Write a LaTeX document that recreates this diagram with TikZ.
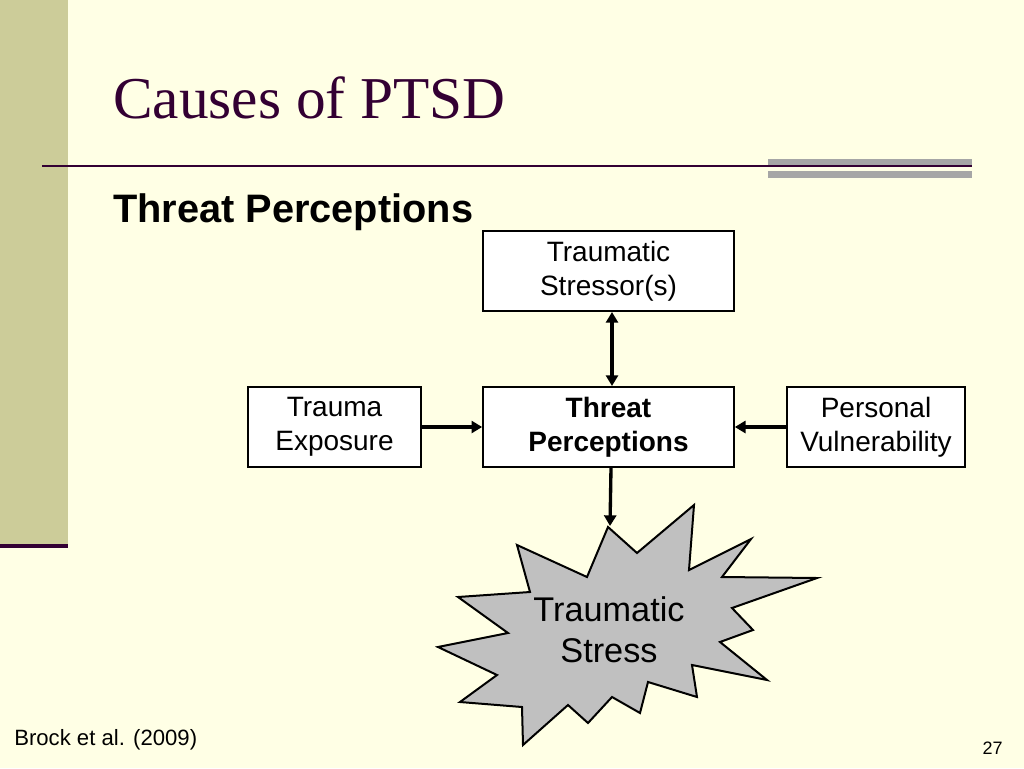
\documentclass[tikz,border=0pt]{standalone}
\usepackage{fontspec}
\setmainfont{Liberation Serif}
\setsansfont{Liberation Sans}
\usetikzlibrary{arrows.meta}
\definecolor{bgyellow}{RGB}{255,255,229}
\definecolor{barolive}{RGB}{204,204,153}
\definecolor{darkplum}{RGB}{51,0,51}
\definecolor{burstgray}{RGB}{192,192,192}
\tikzset{
  box/.style={draw,line width=1.5pt,fill=white,font=\sffamily\fontsize{21}{25.5}\selectfont,align=center,inner sep=0pt},
  link/.style={line width=2.5pt,-{Triangle[length=8pt,width=9pt]}}
}
\begin{document}
\begin{tikzpicture}[x=0.75pt,y=-0.75pt,>=Triangle]
  % Background
  \fill[bgyellow] (0,0) rectangle (1024,768);
  \useasboundingbox (0,0) rectangle (1024,768);
  \fill[barolive] (0,0) rectangle (68,545);
  \draw[darkplum,line width=3pt] (0,546) -- (68,546);
  \draw[darkplum,line width=1.5pt] (42,166) -- (972,166);
  \fill[gray!70] (768,159) rectangle (972,165);
  \fill[gray!70] (768,171) rectangle (972,178);
  %
  % Titles
  \node[anchor=base west,darkplum,font=\fontsize{44.5}{48}\selectfont,inner sep=0pt] at (113,118) {Causes of PTSD};
  \node[anchor=base west,font=\sffamily\bfseries\fontsize{29.8}{33}\selectfont,inner sep=0pt] at (113,222) {Threat Perceptions};
  %
  % Boxes
  \node[box,minimum width=188pt,minimum height=60pt] (stressor) at (608.5,271) {Traumatic\\Stressor(s)};
  \node[box,minimum width=130pt,minimum height=60pt] (exposure) at (334.5,427) {Trauma\\Exposure};
  \node[box,minimum width=188pt,minimum height=60pt,font=\sffamily\bfseries\fontsize{21}{25.5}\selectfont] (threat) at (608.5,427) {Threat\\Perceptions};
  \node[box,minimum width=134pt,minimum height=60pt] (vuln) at (876,427) {Personal\\Vulnerability};
  %
  % Starburst
  \filldraw[fill=burstgray,line width=1.5pt,line join=miter]
    (608,527) -- (637,553) -- (694,505) -- (689,570) -- (751,539) -- (722,577)
    -- (817,578) -- (732,608) -- (753,630) -- (720,642) -- (767,680) -- (692,665)
    -- (697,697) -- (648,682) -- (640,713) -- (612,697) -- (588,723) -- (568,705)
    -- (523,745) -- (522,707) -- (460,702) -- (497,675) -- (438,647) -- (508,633)
    -- (458,597) -- (530,592) -- (517,545) -- (587,577) -- cycle;
  \coordinate (bursttop) at (610,526);
  \node[font=\sffamily\fontsize{25.7}{31}\selectfont,align=center] (stress) at (609,630) {Traumatic\\Stress};
  %
  % Arrows
  \draw[link,{Triangle[length=8pt,width=9pt]}-{Triangle[length=8pt,width=9pt]}] (stressor.south -| 612,0) -- (threat.north -| 612,0);
  \draw[link] (exposure) -- (threat);
  \draw[link] (vuln) -- (threat);
  \draw[link] (threat.south -| 611,0) -- (bursttop);
  %
  % Footer
  \node[anchor=base west,font=\sffamily\fontsize{16.6}{19}\selectfont,inner sep=0pt] (cite) at (14,745) {Brock et al. (2009)};
  \node[anchor=base east,font=\sffamily\fontsize{13.5}{16}\selectfont,inner sep=0pt] (page) at (1003,754) {27};
\end{tikzpicture}
\end{document}
